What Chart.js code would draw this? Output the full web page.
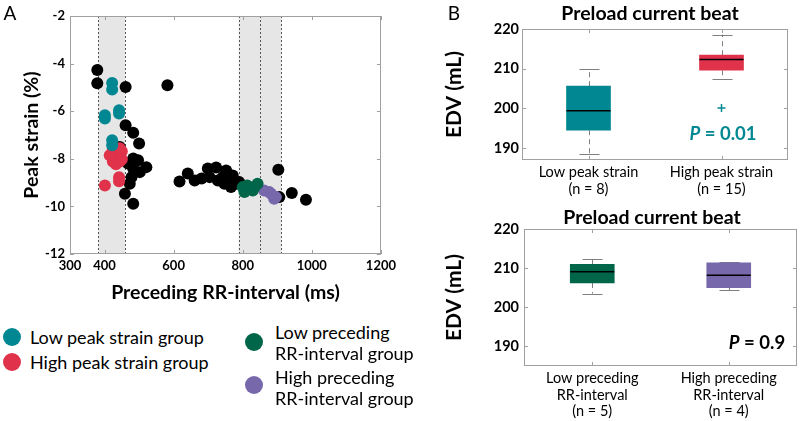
<!DOCTYPE html>
<html><head><meta charset="utf-8">
<script src="https://cdn.jsdelivr.net/npm/chart.js@4"></script>
<style>
html,body{margin:0;padding:0;background:#fff;}
body{width:800px;height:421px;position:relative;overflow:hidden;font-family:Lato,sans-serif;color:#000;}
canvas{position:absolute;}
.t{position:absolute;white-space:nowrap;line-height:1;}
.cc{transform:translate(-50%,-50%);}
.lc{transform:translate(0,-50%);}
.dot{position:absolute;border-radius:50%;width:18px;height:18px;transform:translate(-50%,-50%);}
</style></head><body>
<canvas id="a" width="400" height="305" style="left:0;top:0;width:400px;height:305px"></canvas>
<canvas id="b1" width="400" height="200" style="left:400px;top:0;width:400px;height:200px"></canvas>
<canvas id="b2" width="400" height="221" style="left:400px;top:200px;width:400px;height:221px"></canvas>

<div class="t cc" style="left:10px;top:12px;font-size:19px;">A</div>
<div class="t cc" style="left:454px;top:12px;font-size:19px;">B</div>
<div class="t cc" style="left:650px;top:13px;font-size:19.5px;font-weight:bold;">Preload current beat</div>
<div class="t cc" style="left:652px;top:217px;font-size:19.5px;font-weight:bold;">Preload current beat</div>
<div class="t cc" style="left:723px;top:133px;font-size:18.5px;font-weight:bold;color:#008792;"><i>P</i> = 0.01</div>
<div class="t cc" style="left:757px;top:342px;font-size:18.5px;font-weight:bold;"><i>P</i> = 0.9</div>

<div class="dot" style="left:12px;top:337px;background:#008792"></div>
<div class="t lc" style="left:30px;top:337px;font-size:18px;">Low peak strain group</div>
<div class="dot" style="left:12px;top:362px;background:#E0324B"></div>
<div class="t lc" style="left:30px;top:362px;font-size:18px;">High peak strain group</div>
<div class="dot" style="left:254px;top:342px;background:#00664A"></div>
<div class="t lc" style="left:275px;top:332px;font-size:18px;">Low preceding</div>
<div class="t lc" style="left:275px;top:353px;font-size:18px;">RR-interval group</div>
<div class="dot" style="left:254px;top:385px;background:#7768AC"></div>
<div class="t lc" style="left:275px;top:377px;font-size:18px;">High preceding</div>
<div class="t lc" style="left:275px;top:398px;font-size:18px;">RR-interval group</div>

<script>
// ---------- Panel A data ----------
const blackX = [379, 379, 461, 582, 461, 483, 500, 444, 483, 468, 497, 521, 483, 502, 478, 473, 459, 483,
                617, 641, 661, 681, 699, 723, 704, 728, 742, 747, 761, 766, 781, 790, 752, 771,
                903, 906, 942, 983];
const blackY = [-4.27, -4.83, -4.98, -4.91, -6.59, -6.91, -7.36, -7.50, -7.99, -8.20, -8.06, -8.35, -8.41, -8.56, -8.77, -9.05, -9.47, -9.89,
                -8.95, -8.62, -8.91, -8.83, -8.41, -8.37, -8.77, -8.91, -8.77, -9.05, -8.83, -9.19, -9.05, -8.98, -8.49, -8.70,
                -8.46, -9.61, -9.44, -9.72];
const tealX = [422, 422, 442, 442, 401, 401, 422, 422];
const tealY = [-4.81, -5.09, -5.96, -6.10, -6.17, -6.31, -7.22, -7.43];
const redX = [424, 444, 424, 444, 424, 444, 424, 444, 433, 450, 415, 450, 442, 442, 401];
const redY = [-7.60, -7.56, -7.77, -7.77, -7.94, -7.94, -8.11, -8.11, -8.23, -7.68, -7.85, -8.02, -8.77, -8.94, -9.12];
const greenX = [800, 819, 843, 805, 829, 813, 834];
const greenY = [-9.19, -9.26, -9.05, -9.40, -9.33, -9.12, -9.20];
const purpleX = [862, 882, 891, 877, 896];
const purpleY = [-9.33, -9.47, -9.68, -9.40, -9.61];
const regionStart = [382, 788, 850];
const regionEnd = [459, 850, 912];
const xTicksA = [300, 400, 600, 800, 1000, 1200];
const yTicksA = [-12, -10, -8, -6, -4, -2];

// ---------- Panel B data ----------
const topLabels = [["Low peak strain", "(n = 8)"], ["High peak strain", "(n = 15)"]];
const topQ1 = [194.5, 209.6];
const topQ3 = [205.6, 213.4];
const topMed = [199.4, 212.3];
const topLo = [188.6, 207.5];
const topHi = [210.0, 218.6];
const topOutlier = [null, 200.1];

const botLabels = [["Low preceding", "RR-interval", "(n = 5)"], ["High preceding", "RR-interval", "(n = 4)"]];
const botQ1 = [206.2, 205.0];
const botQ3 = [211.0, 211.35];
const botMed = [209.05, 208.2];
const botLo = [203.5, 204.4];
const botHi = [212.3, 211.5];
const yTicksB = [190, 200, 210, 220];

const TEAL = '#008792', RED = '#E0324B', GREEN = '#00664A', PURPLE = '#7768AC';
Chart.defaults.font.family = 'Lato, sans-serif';
Chart.defaults.color = '#000';

const pts = (xs, ys) => xs.map((x, i) => ({x, y: ys[i]}));

const frame = {
  id: 'frame',
  afterDraw(chart) {
    const {ctx, chartArea: a, scales} = chart;
    ctx.save();
    ctx.strokeStyle = '#a0a0a0'; ctx.lineWidth = 1;
    ctx.strokeRect(Math.round(a.left) + 0.5, Math.round(a.top) + 0.5, Math.round(a.right - a.left) - 1, Math.round(a.bottom - a.top) - 1);
    const L = 4;
    ctx.beginPath();
    scales.x.ticks.forEach((t, i) => {
      const x = Math.round(scales.x.getPixelForTick(i)) + 0.5;
      ctx.moveTo(x, a.bottom); ctx.lineTo(x, a.bottom - L);
      ctx.moveTo(x, a.top); ctx.lineTo(x, a.top + L);
    });
    scales.y.ticks.forEach((t, i) => {
      const y = Math.round(scales.y.getPixelForTick(i)) + 0.5;
      ctx.moveTo(a.left, y); ctx.lineTo(a.left + L, y);
      ctx.moveTo(a.right, y); ctx.lineTo(a.right - L, y);
    });
    ctx.stroke();
    ctx.restore();
  }
};

const shade = {
  id: 'shade',
  beforeDatasetsDraw(chart) {
    const {ctx, chartArea: a, scales: {x}} = chart;
    ctx.save();
    ctx.fillStyle = '#e6e6e6';
    regionStart.forEach((s, i) => {
      const x0 = x.getPixelForValue(s), x1 = x.getPixelForValue(regionEnd[i]);
      ctx.fillRect(x0, a.top, x1 - x0, a.bottom - a.top);
    });
    ctx.strokeStyle = '#555'; ctx.setLineDash([2, 2]); ctx.lineWidth = 1;
    ctx.beginPath();
    [...regionStart, ...regionEnd].forEach(v => {
      const px = Math.round(x.getPixelForValue(v)) + 0.5;
      ctx.moveTo(px, a.top); ctx.lineTo(px, a.bottom);
    });
    ctx.stroke();
    ctx.restore();
  }
};

new Chart(document.getElementById('a'), {
  type: 'scatter',
  data: {datasets: [
    {data: pts(tealX, tealY), backgroundColor: TEAL},
    {data: pts(redX, redY), backgroundColor: RED},
    {data: pts(greenX, greenY), backgroundColor: GREEN},
    {data: pts(purpleX, purpleY), backgroundColor: PURPLE},
    {data: pts(blackX, blackY), backgroundColor: '#000'}
  ]},
  options: {
    responsive: false, animation: false, devicePixelRatio: 1,
    layout: {padding: {top: 16, right: 18, left: 0, bottom: 0}},
    elements: {point: {radius: 6, hoverRadius: 6, borderWidth: 0}},
    plugins: {legend: {display: false}, tooltip: {enabled: false}},
    events: [],
    scales: {
      x: {
        type: 'linear', min: 300, max: 1200,
        afterBuildTicks: s => { s.ticks = xTicksA.map(v => ({value: v})); },
        afterFit: s => { s.height = 51; },
        grid: {display: false, drawTicks: false}, border: {display: false},
        ticks: {font: {size: 13, weight: 'bold'}, padding: 4, maxRotation: 0, autoSkip: false, callback: v => String(v)},
        title: {display: true, text: 'Preceding RR-interval (ms)', font: {size: 19.5, weight: 'bold'}, padding: {top: 0, bottom: 1}}
      },
      y: {
        type: 'linear', min: -12, max: -2,
        afterBuildTicks: s => { s.ticks = yTicksA.map(v => ({value: v})); },
        afterFit: s => { s.width = 70; },
        grid: {display: false, drawTicks: false}, border: {display: false},
        ticks: {font: {size: 13, weight: 'bold'}, padding: 5, callback: v => String(v)},
        title: {display: true, text: 'Peak strain (%)', font: {size: 19.5, weight: 'bold'}, padding: {top: 20, bottom: 0}}
      }
    }
  },
  plugins: [shade, frame]
});

function boxParts(q1, q3, med, lo, hi) {
  return {
    id: 'boxParts',
    beforeDatasetsDraw(chart) {
      const {ctx, scales: {x, y}} = chart;
      ctx.save();
      ctx.strokeStyle = '#7f7f7f'; ctx.lineWidth = 1;
      lo.forEach((v, i) => {
        const cx = Math.round(x.getPixelForValue(i)) + 0.5;
        ctx.setLineDash([5, 4]);
        ctx.beginPath();
        ctx.moveTo(cx, y.getPixelForValue(q1[i])); ctx.lineTo(cx, y.getPixelForValue(v));
        ctx.moveTo(cx, y.getPixelForValue(q3[i])); ctx.lineTo(cx, y.getPixelForValue(hi[i]));
        ctx.stroke();
        ctx.setLineDash([]);
        ctx.beginPath();
        const yl = Math.round(y.getPixelForValue(v)) + 0.5, yh = Math.round(y.getPixelForValue(hi[i])) + 0.5;
        ctx.moveTo(cx - 10, yl); ctx.lineTo(cx + 10, yl);
        ctx.moveTo(cx - 10, yh); ctx.lineTo(cx + 10, yh);
        ctx.stroke();
      });
      ctx.restore();
    },
    afterDatasetsDraw(chart) {
      const {ctx, scales: {x, y}} = chart;
      ctx.save();
      ctx.strokeStyle = '#000'; ctx.lineWidth = 1.5;
      med.forEach((m, i) => {
        const cx = x.getPixelForValue(i), my = y.getPixelForValue(m);
        ctx.beginPath(); ctx.moveTo(cx - 22, my); ctx.lineTo(cx + 22, my); ctx.stroke();
      });
      ctx.restore();
    }
  };
}

function boxChart(id, labels, q1, q3, med, lo, hi, outl, colors, yMin, pad, yW, xH, tickPad) {
  const ds = [
    {type: 'bar', data: q1.map((v, i) => [v, q3[i]]), backgroundColor: colors, borderWidth: 0, barThickness: 44}
  ];
  if (outl) ds.unshift({type: 'line', data: outl, showLine: false, pointStyle: 'cross', pointRadius: 4,
    borderColor: TEAL, borderWidth: 1.5, backgroundColor: TEAL});
  new Chart(document.getElementById(id), {
    data: {labels: labels, datasets: ds},
    options: {
      responsive: false, animation: false, devicePixelRatio: 1, events: [],
      layout: {padding: pad},
      plugins: {legend: {display: false}, tooltip: {enabled: false}},
      scales: {
        x: {
          type: 'category', offset: true,
          afterFit: s => { s.height = xH; },
          grid: {display: false, drawTicks: false}, border: {display: false},
          ticks: {font: {size: 14.5, lineHeight: 1.15}, padding: 4, maxRotation: 0, autoSkip: false}
        },
        y: {
          type: 'linear', min: yMin, max: 220,
          afterBuildTicks: s => { s.ticks = yTicksB.map(v => ({value: v})); },
          afterFit: s => { s.width = yW; },
          grid: {display: false, drawTicks: false}, border: {display: false},
          ticks: {font: {size: 14.5, weight: 'bold'}, padding: tickPad},
          title: {display: true, text: 'EDV (mL)', font: {size: 21, weight: 'bold'}, padding: {top: 42, bottom: 0}}
        }
      }
    },
    plugins: [boxParts(q1, q3, med, lo, hi), frame]
  });
}

boxChart('b1', topLabels, topQ1, topQ3, topMed, topLo, topHi, topOutlier, [TEAL, RED], 187,
  {top: 29, right: 12, left: 0, bottom: 0}, 122, 40, 3);
boxChart('b2', botLabels, botQ1, botQ3, botMed, botLo, botHi, null, [GREEN, PURPLE], 185,
  {top: 29, right: 3, left: 0, bottom: 0}, 124, 55, 5);
</script>
</body></html>
